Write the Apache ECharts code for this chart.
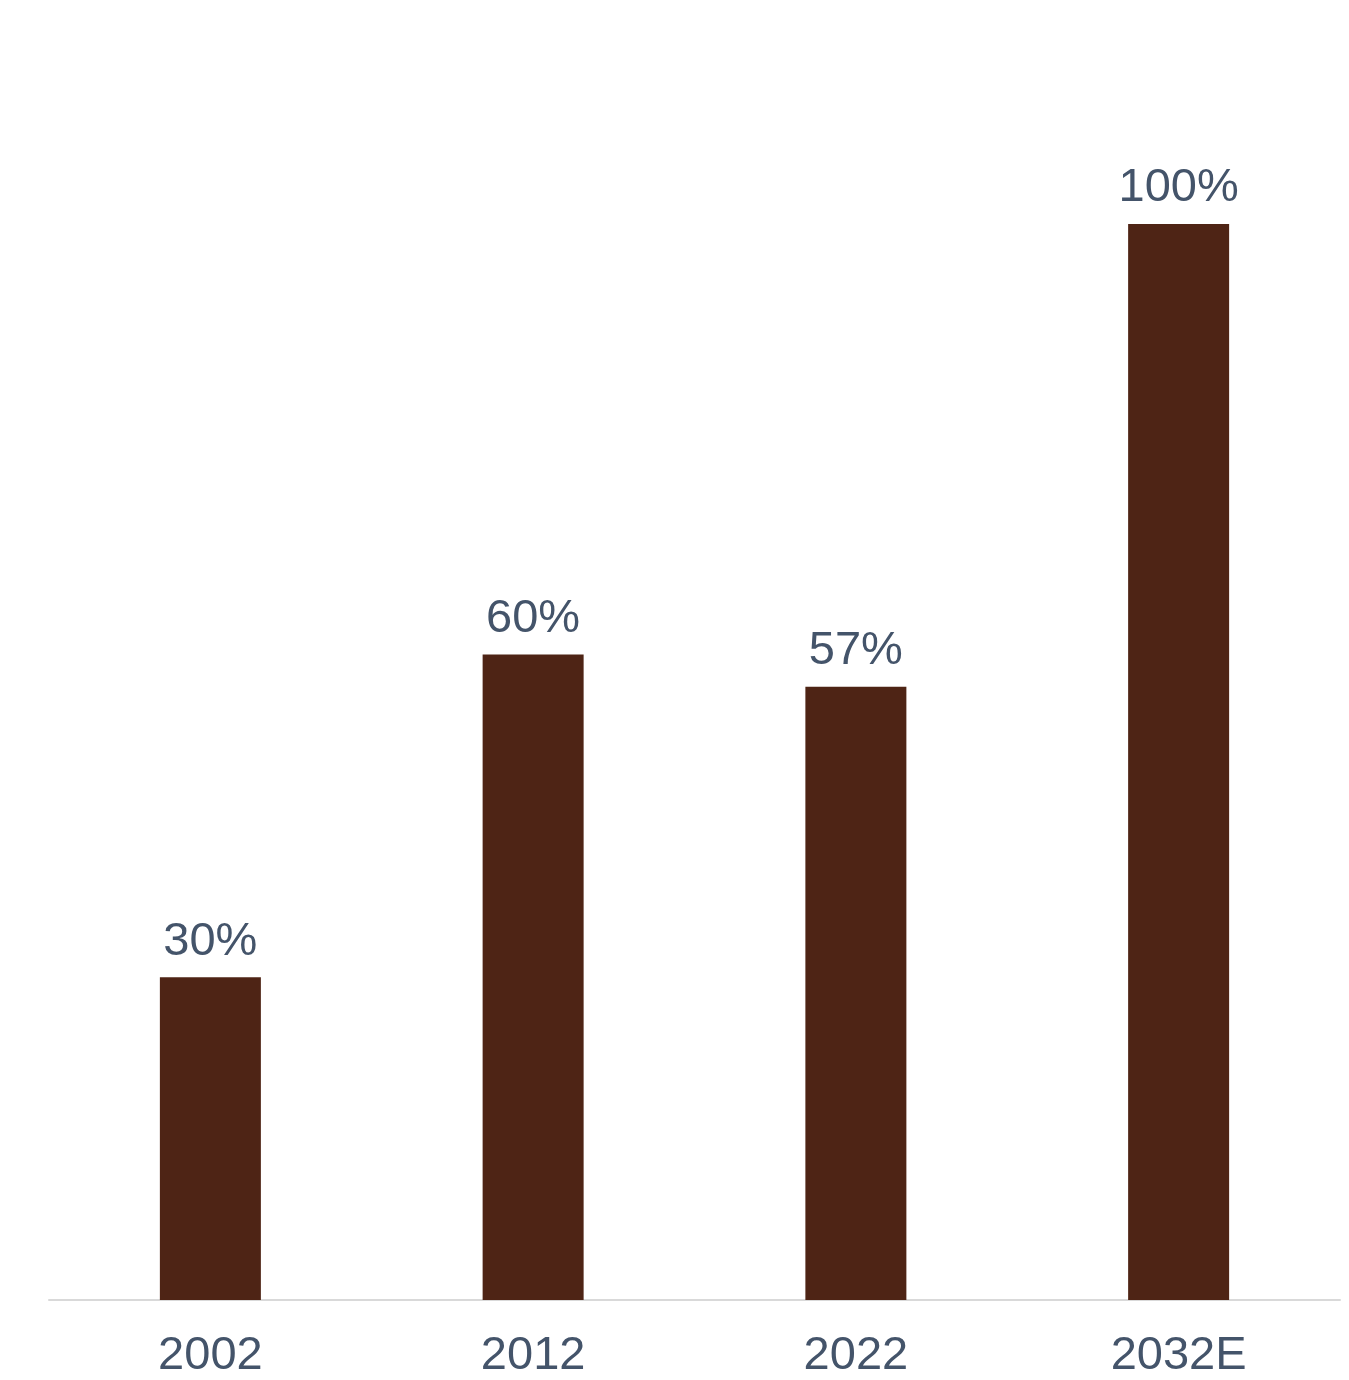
<!DOCTYPE html>
<html>
<head>
<meta charset="utf-8">
<script src="https://cdn.jsdelivr.net/npm/echarts@6/dist/echarts.min.js"></script>
<style>
html,body{margin:0;padding:0;background:#fff;}
#chart{width:1349px;height:1380px;}
</style>
</head>
<body>
<div id="chart"></div>
<script>
const categories = ['2002', '2012', '2022', '2032E'];
const values = [30, 60, 57, 100];

const chart = echarts.init(document.getElementById('chart'));
chart.setOption({
  animation: false,
  backgroundColor: '#ffffff',
  grid: { left: 49, right: 9, top: 224, bottom: 80, containLabel: false },
  xAxis: {
    type: 'category',
    data: categories,
    axisLine: { show: true, lineStyle: { color: '#d9d9d9', width: 2 } },
    axisTick: { show: false },
    axisLabel: { color: '#44546A', fontSize: 47, fontFamily: 'Liberation Sans, Arial, sans-serif', margin: 33 }
  },
  yAxis: {
    type: 'value',
    min: 0,
    max: 100,
    show: false,
    splitLine: { show: false }
  },
  series: [{
    type: 'bar',
    data: values,
    barWidth: 101,
    itemStyle: { color: '#4E2415' },
    label: {
      show: true,
      position: 'top',
      distance: 12,
      formatter: p => p.value + '%',
      color: '#44546A',
      fontSize: 47,
      fontFamily: 'Liberation Sans, Arial, sans-serif'
    }
  }]
});
</script>
</body>
</html>
